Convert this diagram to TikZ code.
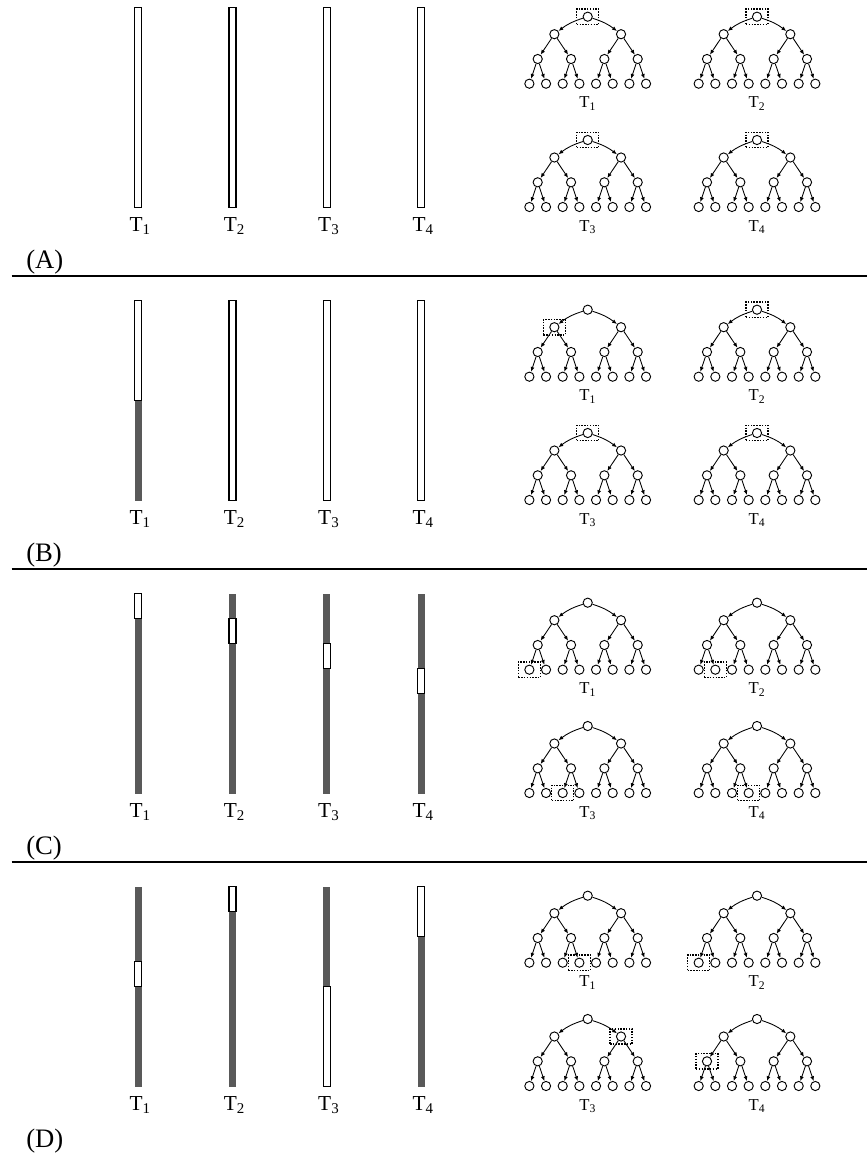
\documentclass[tikz,border=0pt]{standalone}
\usepackage{fontspec}
\setmainfont{Liberation Serif}
\usetikzlibrary{arrows.meta}
\tikzset{
  tn/.style={circle,draw,line width=0.7pt,minimum size=6.9pt,inner sep=0pt,fill=white},
  tedge/.style={line width=0.65pt,-{Latex[length=3.6pt,width=3pt]},shorten >=0.1pt},
  tlab/.style={anchor=base,inner sep=0pt,font=\fontsize{12.5}{14}\selectfont},
  blab/.style={anchor=base,inner sep=0pt,font=\fontsize{16}{18}\selectfont},
  slab/.style={anchor=base west,inner sep=0pt,font=\fontsize{20}{24}\selectfont},
  hlbox/.style={draw,densely dotted,line width=1.1pt,minimum width=16.5pt,minimum height=11.5pt,inner sep=0pt},
  wbar/.style={draw,fill=white,line width=1pt},
  sbar/.style={fill=black!65},
  sepline/.style={line width=1.5pt}
}
\newcommand\mytree[4]{%
  \begin{scope}[shift={(#2,#3)}]
    \foreach \i/\xx/\yy in {1/0/0, 2/-33.33/17.5, 3/33.33/17.5, 4/-50/42.3, 5/-16.67/42.3, 6/16.67/42.3, 7/50/42.3, 8/-58.33/67, 9/-41.67/67, 10/-25/67, 11/-8.33/67, 12/8.33/67, 13/25/67, 14/41.67/67, 15/58.33/67}
      {\node[tn] (#1-\i) at (\xx,\yy) {};}
    \draw[tedge] (#1-1) to[bend right=10] (#1-2);
    \draw[tedge] (#1-1) to[bend left=10] (#1-3);
    \foreach \p/\a/\b in {2/4/5,3/6/7,4/8/9,5/10/11,6/12/13,7/14/15}
      {\draw[tedge] (#1-\p) -- (#1-\a); \draw[tedge] (#1-\p) -- (#1-\b);}
    \node[tlab] (#1-lab) at (0,91) {T\textsubscript{#4}};
  \end{scope}}
\newcommand\hlnode[1]{\node[hlbox] (#1-hl) at (#1) {};}
\newcommand\shadebar[2]{\fill[sbar] (#1-3.5,#2) rectangle (#1+3.5,#2+200);}
\newcommand\whiteseg[4]{\draw[wbar] (#1-3.5,#2+#3*25) rectangle (#1+3.5,#2+#4*25);}
\begin{document}
\begin{tikzpicture}[x=0.75pt,y=-0.75pt]
\useasboundingbox (0,0) rectangle (867,1153);
\foreach \s/\L in {0/A,1/B,2/C,3/D}{
  \pgfmathsetmacro\dy{293*\s}
  \foreach \k/\bx in {1/138.2,2/232.5,3/326.8,4/421.1}{
    \node[blab] (\L-b\k) at (\bx+2,231.5+\dy) {T\textsubscript{\k}};
  }
  \node[slab] (\L-sec) at (26,268.5+\dy) {(\L)};
  \mytree{\L t1}{587.7}{16.7+\dy}{1}
  \mytree{\L t2}{757}{16.7+\dy}{2}
  \mytree{\L t3}{587.7}{140+\dy}{3}
  \mytree{\L t4}{757}{140+\dy}{4}
}
\foreach \s in {0,1,2}{
  \coordinate (sepL\s) at (11.7,276+293*\s);
  \coordinate (sepR\s) at (867,276+293*\s);
  \draw[sepline] (sepL\s) -- (sepR\s);
}
% (A)
\whiteseg{138.2}{7.5}{0}{8}
\whiteseg{232.5}{7.5}{0}{8}
\whiteseg{326.8}{7.5}{0}{8}
\whiteseg{421.1}{7.5}{0}{8}
\hlnode{At1-1}\hlnode{At2-1}\hlnode{At3-1}\hlnode{At4-1}
% (B)
\shadebar{138.2}{300.5}
\whiteseg{138.2}{300.5}{0}{4}
\whiteseg{232.5}{300.5}{0}{8}
\whiteseg{326.8}{300.5}{0}{8}
\whiteseg{421.1}{300.5}{0}{8}
\hlnode{Bt1-2}\hlnode{Bt2-1}\hlnode{Bt3-1}\hlnode{Bt4-1}
% (C)
\shadebar{138.2}{593.5}\whiteseg{138.2}{593.5}{0}{1}
\shadebar{232.5}{593.5}\whiteseg{232.5}{593.5}{1}{2}
\shadebar{326.8}{593.5}\whiteseg{326.8}{593.5}{2}{3}
\shadebar{421.1}{593.5}\whiteseg{421.1}{593.5}{3}{4}
\hlnode{Ct1-8}\hlnode{Ct2-9}\hlnode{Ct3-10}\hlnode{Ct4-11}
% (D)
\shadebar{138.2}{886.5}\whiteseg{138.2}{886.5}{3}{4}
\shadebar{232.5}{886.5}\whiteseg{232.5}{886.5}{0}{1}
\shadebar{326.8}{886.5}\whiteseg{326.8}{886.5}{4}{8}
\shadebar{421.1}{886.5}\whiteseg{421.1}{886.5}{0}{2}
\hlnode{Dt1-11}\hlnode{Dt2-8}\hlnode{Dt3-3}\hlnode{Dt4-4}
\end{tikzpicture}
\end{document}
